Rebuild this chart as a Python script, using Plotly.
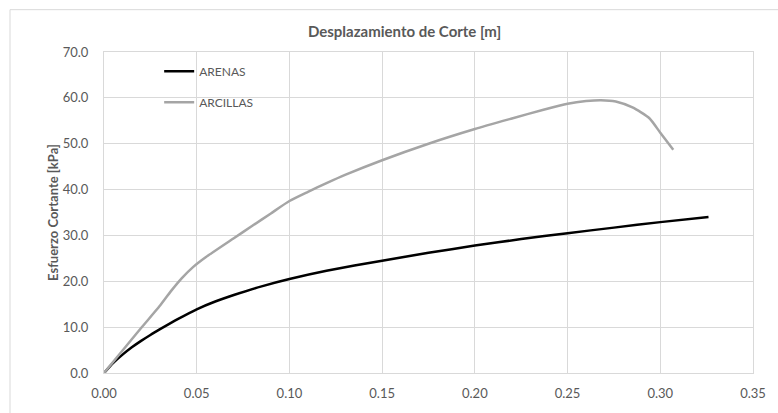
import plotly.graph_objects as go

# ARENAS (black)
arenas_x = [0.0, 0.005, 0.01, 0.015, 0.02, 0.025, 0.03, 0.04, 0.05, 0.06, 0.07, 0.085, 0.10, 0.12,
            0.15, 0.175, 0.20, 0.225, 0.25, 0.275, 0.30, 0.326]
arenas_y = [0.0, 2.2, 4.0, 5.6, 7.0, 8.3, 9.5, 11.8, 13.9, 15.6, 17.0, 18.9, 20.5, 22.3,
            24.5, 26.2, 27.8, 29.2, 30.5, 31.7, 32.9, 34.0]

# ARCILLAS (gray)
arcillas_x = [0.0, 0.01, 0.02, 0.03, 0.036, 0.042, 0.048, 0.055, 0.07, 0.08, 0.09, 0.10, 0.11, 0.12,
              0.13, 0.15, 0.175, 0.20, 0.22, 0.237, 0.25, 0.26, 0.268, 0.276, 0.285, 0.294, 0.30, 0.307]
arcillas_y = [0.0, 4.9, 9.8, 14.6, 17.8, 20.7, 23.1, 25.3, 29.4, 32.1, 34.8, 37.5, 39.5, 41.4,
              43.2, 46.4, 50.0, 53.2, 55.5, 57.4, 58.7, 59.3, 59.5, 59.2, 57.9, 55.6, 52.4, 48.7]

x_ticks = [0.0, 0.05, 0.10, 0.15, 0.20, 0.25, 0.30, 0.35]
y_ticks = [0, 10, 20, 30, 40, 50, 60, 70]

title_text = "Desplazamiento de Corte [m]"
ytitle_text = "Esfuerzo Cortante [kPa]"

FONT = "Lato, 'Open Sans', sans-serif"
TXT = "#595959"
GRID = "#d9d9d9"

fig = go.Figure()
fig.add_trace(go.Scatter(x=arenas_x, y=arenas_y, mode="lines", name="ARENAS",
                         legendgroup="a",
                         line=dict(color="#000000", width=2.5, shape="spline", smoothing=0.5)))
fig.add_trace(go.Scatter(x=arcillas_x, y=arcillas_y, mode="lines", name="ARCILLAS",
                         legendgroup="b",
                         line=dict(color="#a5a5a5", width=2.5, shape="spline", smoothing=0.6)))

fig.update_layout(
    width=778, height=413,
    margin=dict(l=104, r=18, t=52, b=35),
    paper_bgcolor="white", plot_bgcolor="white",
    font=dict(family=FONT, color=TXT, size=12),
    title=dict(text="<b>" + title_text + "</b>", x=0.52, xanchor="center",
               y=1 - 32 / 413, yanchor="middle", font=dict(size=15, color=TXT, family=FONT)),
    showlegend=True,
    legend=dict(x=0.085, y=0.985, xanchor="left", yanchor="top", bgcolor="rgba(0,0,0,0)",
                font=dict(size=12, color=TXT, family=FONT), traceorder="grouped",
                tracegroupgap=12, itemwidth=30),
    shapes=[dict(type="rect", xref="paper", yref="paper",
                 x0=(9 - 104) / 656, x1=(800 - 104) / 656,
                 y0=(378 - 430) / 326, y1=(378 - 9) / 326,
                 line=dict(color="#d9d9d9", width=1), layer="below")],
)
fig.update_xaxes(range=[0, 0.35], tickvals=x_ticks, tickformat=".2f",
                 showgrid=True, gridcolor=GRID, gridwidth=1,
                 showline=True, linecolor=GRID, linewidth=1, mirror=True,
                 zeroline=False, ticks="", ticklabelstandoff=8,
                 tickfont=dict(size=13, color=TXT), fixedrange=True)
fig.update_yaxes(range=[0, 70], tickvals=y_ticks, tickformat=".1f",
                 showgrid=True, gridcolor=GRID, gridwidth=1,
                 showline=True, linecolor=GRID, linewidth=1, mirror=True,
                 zeroline=False, ticks="", ticklabelstandoff=12,
                 tickfont=dict(size=13, color=TXT),
                 title=dict(text="<b>" + ytitle_text + "</b>", font=dict(size=13, color=TXT, family=FONT),
                            standoff=1), fixedrange=True)

fig.write_html("out.html", config={"displayModeBar": False},
               post_script="document.body.style.margin='0';document.body.style.padding='0';")
